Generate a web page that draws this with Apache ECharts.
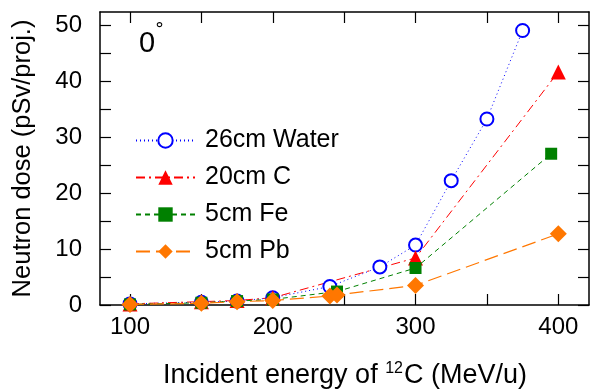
<!DOCTYPE html>
<html>
<head>
<meta charset="utf-8">
<script src="https://cdn.jsdelivr.net/npm/echarts@6/dist/echarts.min.js"></script>
<style>
  html, body { margin: 0; padding: 0; background: #fff; }
  #chart { width: 593px; height: 389px; }
</style>
</head>
<body>
<div id="chart"></div>
<script>
// data
const waterE = [100, 150, 175, 200, 240, 275, 300, 325, 350, 375]
const waterD = [0.2, 0.5, 0.7, 1.3, 3.3, 6.8, 10.7, 22.2, 33.2, 49.0]
const carbonE = [100, 150, 175, 200, 300, 400]
const carbonD = [0.2, 0.6, 0.8, 1.3, 8.4, 41.6]
const ironE = [100, 150, 175, 200, 245, 300, 395]
const ironD = [0.1, 0.4, 0.7, 1.0, 2.4, 6.6, 27.0]
const leadE = [100, 150, 175, 200, 240, 245, 300, 400]
const leadD = [0.1, 0.3, 0.6, 0.8, 1.6, 1.8, 3.5, 12.7]

const xTicks = [100, 150, 200, 250, 300, 350, 400]
const xLabels = [100, 200, 300, 400]
const yTicks = [0, 5, 10, 15, 20, 25, 30, 35, 40, 45, 50]
const yLabels = [0, 10, 20, 30, 40, 50]

const font = 'Liberation Sans, Arial, sans-serif'
const pairs = (xs, ys) => xs.map((x, i) => [x, ys[i]])

const myChart = echarts.init(document.getElementById('chart'))

const tickStyle = { lineStyle: { color: '#000', width: 1.2 } }
function xAxisOf(pos, showLabels) {
  return {
    type: 'value',
    position: pos,
    min: 79,
    max: 421.5,
    splitLine: { show: false },
    axisLine: { show: true, onZero: false, lineStyle: { color: '#000', width: 1.5 } },
    axisTick: { show: true, inside: true, length: 11, customValues: xTicks, ...tickStyle },
    axisLabel: {
      show: showLabels,
      customValues: xLabels,
      margin: 10,
      color: '#000',
      fontSize: 24,
      fontFamily: font
    }
  }
}
function yAxisOf(pos, showLabels) {
  return {
    type: 'value',
    position: pos,
    min: 0,
    max: 52.3,
    splitLine: { show: false },
    axisLine: { show: true, onZero: false, lineStyle: { color: '#000', width: 1.5 } },
    axisTick: { show: true, inside: true, length: 11, customValues: yTicks, ...tickStyle },
    axisLabel: {
      show: showLabels,
      customValues: yLabels,
      margin: 18,
      color: '#000',
      fontSize: 24,
      fontFamily: font
    }
  }
}

const yLeft = yAxisOf('left', true)
yLeft.name = 'Neutron dose (pSv/proj.)'
yLeft.nameLocation = 'middle'
yLeft.nameGap = 64
yLeft.nameTextStyle = { color: '#000', fontSize: 25.5, fontFamily: font }

const option = {
  animation: false,
  backgroundColor: '#fff',
  grid: { left: 100, right: 4, top: 12, bottom: 84, show: false },
  title: [
    {
      text: '0',
      left: 134,
      top: 24,
      textStyle: { fontWeight: 'normal', fontSize: 29, fontFamily: font, color: '#000' }
    },
    {
      // degree mark, drawn a bit above the "0"
      text: '°',
      left: 150,
      top: 16,
      textStyle: { fontWeight: 'normal', fontSize: 18, fontFamily: 'DejaVu Sans', color: '#000' }
    },
    {
      text: '{t|Incident energy of }{s|12}{t|C (MeV/u)}',
      left: 158,
      top: 356,
      textStyle: {
        fontWeight: 'normal',
        rich: {
          t: { fontSize: 27, fontFamily: font, color: '#000', lineHeight: 30 },
          s: { fontSize: 16, fontFamily: font, color: '#000', verticalAlign: 'top', padding: [0, 1, 11, 0] }
        }
      }
    }
  ],
  legend: {
    orient: 'vertical',
    left: 130,
    top: 123,
    itemWidth: 59,
    itemHeight: 18,
    itemGap: 12,
    textStyle: { fontSize: 25, fontFamily: font, color: '#000', padding: [0, 0, 0, 5] },
    data: ['26cm Water', '20cm C', '5cm Fe', '5cm Pb']
  },
  xAxis: [xAxisOf('bottom', true), xAxisOf('top', false)],
  yAxis: [yLeft, yAxisOf('right', false)],
  series: [
    {
      name: '26cm Water',
      type: 'line',
      data: pairs(waterE, waterD),
      symbol: 'emptyCircle',
      symbolSize: 13,
      color: '#0000ff',
      itemStyle: { borderWidth: 1.5 },
      lineStyle: { width: 1, type: [1, 3], color: '#0000ff' }
    },
    {
      name: '20cm C',
      type: 'line',
      data: pairs(carbonE, carbonD),
      symbol: 'triangle',
      symbolSize: 15,
      color: '#ff0000',
      lineStyle: { width: 1, type: [9, 4, 2, 4], color: '#ff0000' }
    },
    {
      name: '5cm Fe',
      type: 'line',
      data: pairs(ironE, ironD),
      symbol: 'rect',
      symbolSize: 12,
      color: '#008000',
      lineStyle: { width: 1, type: [5, 4], color: '#008000' }
    },
    {
      name: '5cm Pb',
      type: 'line',
      data: pairs(leadE, leadD),
      symbol: 'diamond',
      symbolSize: 17,
      color: '#ff7700',
      lineStyle: { width: 1.2, type: [14, 6], color: '#ff7700' }
    }
  ]
}

myChart.setOption(option)
</script>
</body>
</html>
